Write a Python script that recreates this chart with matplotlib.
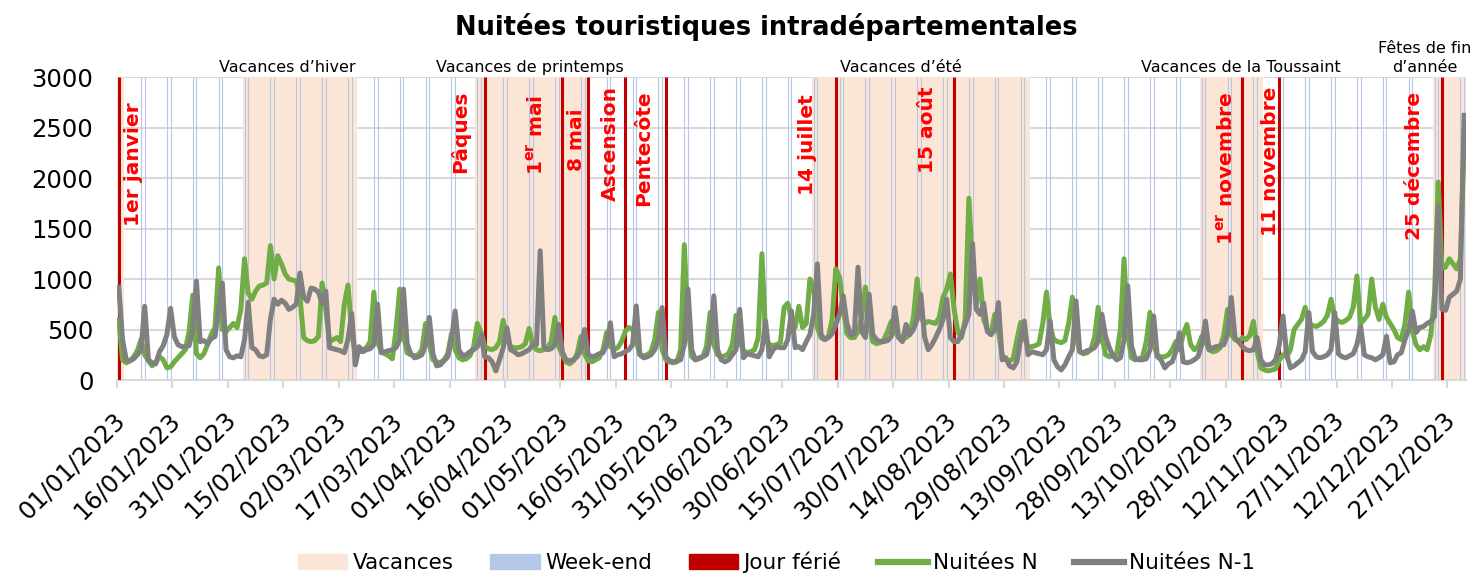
import matplotlib.pyplot as plt
import matplotlib.transforms as mtransforms
import pandas as pd

# jours de l'année 2023
dates = pd.date_range('2023-01-01', '2023-12-31', freq='D')

# Nuitées N (2023), une ligne = une semaine
nuitees_n = [
    590, 200, 170, 190, 230, 290, 400,
    250, 190, 140, 180, 230, 200, 120,
    130, 180, 220, 260, 300, 480, 840,
    260, 220, 260, 350, 450, 520, 1110,
    500, 480, 520, 560, 520, 700, 1200,
    860, 800, 880, 930, 940, 960, 1330,
    1000, 1230, 1150, 1050, 1000, 990, 980,
    820, 420, 390, 380, 390, 430, 960,
    700, 380, 400, 420, 380, 750, 940,
    480, 260, 280, 300, 320, 380, 870,
    380, 280, 260, 240, 210, 500, 900,
    450, 270, 250, 240, 250, 300, 560,
    350, 200, 180, 170, 200, 260, 460,
    300, 220, 200, 210, 240, 330, 560,
    470, 330, 310, 300, 320, 380, 590,
    400, 330, 320, 320, 330, 360, 510,
    340, 300, 290, 300, 320, 380, 620,
    330, 250, 180, 160, 190, 260, 430,
    260, 190, 180, 200, 220, 300, 470,
    330, 300, 320, 380, 480, 520, 500,
    380, 250, 240, 250, 280, 400, 670,
    300, 200, 180, 170, 180, 300, 1340,
    520, 230, 200, 210, 230, 330, 670,
    350, 250, 230, 240, 260, 350, 640,
    380, 290, 270, 280, 300, 420, 1250,
    430, 350, 340, 350, 370, 720, 760,
    600, 520, 730, 520, 560, 1000, 900,
    520, 420, 400, 430, 600, 1100, 1020,
    720, 460, 420, 420, 480, 620, 920,
    560, 380, 360, 370, 400, 480, 580,
    480, 420, 400, 420, 450, 620, 1000,
    620, 560, 580, 570, 560, 620, 820,
    900, 1050, 700, 480, 420, 600, 1800,
    1100, 750, 1000, 600, 500, 450, 650,
    480, 250, 200, 190, 210, 400, 570,
    420, 330, 330, 340, 360, 560, 870,
    520, 400, 380, 370, 390, 560, 820,
    430, 280, 260, 270, 300, 420, 720,
    420, 250, 230, 240, 260, 500, 1200,
    450, 220, 200, 210, 230, 380, 670,
    350, 240, 230, 230, 250, 300, 380,
    300, 450, 550, 350, 300, 330, 430,
    380, 300, 280, 290, 320, 450, 700,
    450, 400, 380, 420, 400, 440, 580,
    280, 120, 100, 90, 100, 110, 200,
    250, 230, 300, 500, 550, 600, 720,
    560, 540, 530, 550, 580, 640, 800,
    620, 580, 570, 590, 620, 720, 1030,
    560, 600, 650, 1000, 720, 600, 750,
    620, 560, 500, 420, 400, 560, 870,
    480, 350, 300, 330, 300, 450, 850,
    1960, 1100, 1120, 1200, 1150, 1100, 1200, 2400,
]

# Nuitées N-1 (2022)
nuitees_n1 = [
    917, 400, 200, 190, 210, 250, 300,
    730, 200, 170, 160, 280, 340, 450,
    710, 430, 350, 330, 330, 340, 500,
    980, 380, 390, 360, 410, 430, 700,
    960, 300, 230, 220, 240, 230, 400,
    770, 320, 300, 240, 230, 250, 600,
    800, 750, 790, 760, 700, 720, 750,
    1060, 820, 780, 910, 900, 870, 760,
    880, 320, 310, 300, 290, 270, 400,
    660, 150, 330, 280, 300, 310, 350,
    750, 270, 280, 290, 300, 320, 400,
    900, 360, 260, 220, 230, 250, 350,
    620, 260, 140, 150, 190, 230, 400,
    683, 300, 240, 250, 280, 300, 330,
    450, 230, 220, 180, 90, 200, 320,
    517, 300, 280, 250, 260, 280, 300,
    350, 350, 1280, 330, 300, 310, 350,
    550, 280, 200, 190, 200, 230, 300,
    500, 250, 230, 240, 260, 270, 350,
    567, 230, 250, 260, 280, 300, 350,
    733, 250, 220, 230, 250, 300, 400,
    717, 230, 190, 180, 190, 200, 350,
    900, 300, 200, 220, 230, 250, 400,
    833, 300, 200, 180, 200, 250, 300,
    700, 220, 260, 250, 240, 230, 300,
    583, 230, 300, 330, 320, 320, 400,
    683, 320, 330, 300, 380, 450, 650,
    1150, 450, 400, 420, 460, 550, 650,
    833, 560, 450, 460, 1117, 480, 420,
    850, 450, 400, 380, 380, 390, 430,
    717, 420, 380, 550, 450, 500, 600,
    850, 430, 300, 350, 420, 500, 600,
    800, 420, 380, 380, 450, 550, 650,
    1350, 700, 650, 760, 480, 450, 500,
    767, 200, 220, 140, 120, 180, 400,
    583, 250, 280, 270, 260, 250, 300,
    583, 200, 130, 100, 150, 230, 300,
    783, 280, 270, 290, 300, 320, 380,
    650, 430, 320, 240, 200, 220, 400,
    933, 340, 210, 200, 200, 210, 300,
    633, 230, 200, 120, 160, 180, 280,
    467, 180, 170, 180, 200, 230, 350,
    583, 300, 320, 330, 340, 350, 450,
    817, 420, 380, 330, 300, 290, 300,
    420, 200, 150, 150, 160, 200, 350,
    633, 250, 120, 140, 170, 200, 280,
    667, 280, 230, 220, 230, 250, 300,
    667, 260, 230, 220, 240, 260, 350,
    533, 250, 230, 220, 200, 220, 250,
    433, 170, 180, 250, 270, 400, 500,
    683, 470, 520, 530, 560, 580, 630,
    1720, 700, 690, 820, 850, 880, 1000, 2620,
]

# périodes de vacances (toutes zones)
vacances = [
    ('2023-01-01', '2023-01-02', ''),
    ('2023-02-04', '2023-03-06', 'Vacances d\u2019hiver'),
    ('2023-04-08', '2023-05-08', 'Vacances de printemps'),
    ('2023-07-08', '2023-09-04', 'Vacances d\u2019été'),
    ('2023-10-21', '2023-11-06', 'Vacances de la Toussaint'),
    ('2023-12-23', '2023-12-31', 'Fêtes de fin\nd\u2019année'),
]

# jours fériés
feries = ['2023-01-01', '2023-04-10', '2023-05-01', '2023-05-08', '2023-05-18',
          '2023-05-29', '2023-07-14', '2023-08-15', '2023-11-01', '2023-11-11',
          '2023-12-25']
feries_labels = ['1er janvier', 'Pâques', r'1$^{\mathbf{er}}$ mai', '8 mai', 'Ascension',
                 'Pentecôte', '14 juillet', '15 août', r'1$^{\mathbf{er}}$ novembre',
                 '11 novembre', '25 décembre']

# position des étiquettes (jour, haut en valeur)
feries_lbl_x = [3.9, 92.4, 113.0, 123.9, 133.1, 141.9, 186.3, 218.8, 299.7, 311.5, 350.7]
feries_lbl_top = [2750, 2870, 2820, 2690, 2910, 2870, 2830, 2910, 2850, 2900, 2850]
vac_lbl_x = [None, 45.5, 111.3, 211.5, 303.5, 353.3]

day = {d: i for i, d in enumerate(dates)}
x = list(range(len(dates)))

fig = plt.figure(figsize=(14.83, 5.73), dpi=100)
ax = fig.add_axes([0.0789, 0.3368, 0.9096, 0.5288])

# vacances
for (start, end, label), lx in zip(vacances, vac_lbl_x):
    s = day[pd.Timestamp(start)]
    e = day[pd.Timestamp(end)]
    ax.axvspan(s - 0.5, e + 0.5, color='#FBE5D6', lw=0, zorder=1)
    if label:
        ax.text(lx, 1.017, label, transform=ax.get_xaxis_transform(),
                ha='center', va='baseline', fontsize=11.5, linespacing=1.35)

# week-ends
we = [i for i, d in enumerate(dates) if d.dayofweek >= 5]
ax.vlines(we, 0, 3000, color='#B4C7E7', lw=0.8, zorder=2)

# jours fériés
fx = [day[pd.Timestamp(f)] for f in feries]
ax.vlines(fx, 0, 3000, color='#C00000', lw=2.2, zorder=3)
for lx, top, lab in zip(feries_lbl_x, feries_lbl_top, feries_labels):
    ax.text(lx, top, lab, rotation=90, ha='center', va='top', color='#FF0000',
            fontsize=14.5, fontweight='bold', zorder=6)

ax.plot(x, nuitees_n, color='#70AD47', lw=3.6, zorder=4, solid_joinstyle='round')
ax.plot(x, nuitees_n1, color='#808080', lw=3.6, zorder=5, solid_joinstyle='round')

ax.set_xlim(-0.5, len(dates) - 0.5)
ax.set_ylim(0, 3000)
ax.set_yticks(range(0, 3001, 500))
ax.yaxis.grid(True, color='#D9D9D9', lw=1.5)
ax.set_axisbelow(True)
ax.tick_params(axis='y', length=0, pad=17, labelsize=17.5)

ticks = list(range(0, len(dates), 15))
ax.set_xticks([t - 0.5 for t in ticks])
ax.set_xticklabels([dates[t].strftime('%d/%m/%Y') for t in ticks], rotation=45,
                   ha='right', va='center', rotation_mode='anchor', fontsize=17.5)
ax.tick_params(axis='x', length=6, width=1.5, color='#D9D9D9', pad=20)
shift = mtransforms.ScaledTranslation(4 / 100, 0, fig.dpi_scale_trans)
for lab in ax.get_xticklabels():
    lab.set_transform(lab.get_transform() + shift)

for s in ['top', 'right', 'left']:
    ax.spines[s].set_visible(False)
ax.spines['bottom'].set_color('#D9D9D9')
ax.spines['bottom'].set_linewidth(1.5)

fig.suptitle('Nuitées touristiques intradépartementales', x=0.517, y=0.977,
             fontsize=18.5, fontweight='bold')

handles = [
    plt.Rectangle((0, 0), 1, 1, color='#FBE5D6'),
    plt.Rectangle((0, 0), 1, 1, color='#B4C7E7'),
    plt.Rectangle((0, 0), 1, 1, color='#C00000'),
    plt.Line2D([], [], color='#70AD47', lw=4.5),
    plt.Line2D([], [], color='#808080', lw=4.5),
]
fig.legend(handles, ['Vacances', 'Week-end', 'Jour férié', 'Nuitées N', 'Nuitées N-1'],
           loc='center', bbox_to_anchor=(0.5236, 0.018), ncol=5, frameon=False,
           fontsize=15.5, handlelength=2.3, handletextpad=0.25, columnspacing=1.7)

fig.savefig('out.png', dpi=100)
